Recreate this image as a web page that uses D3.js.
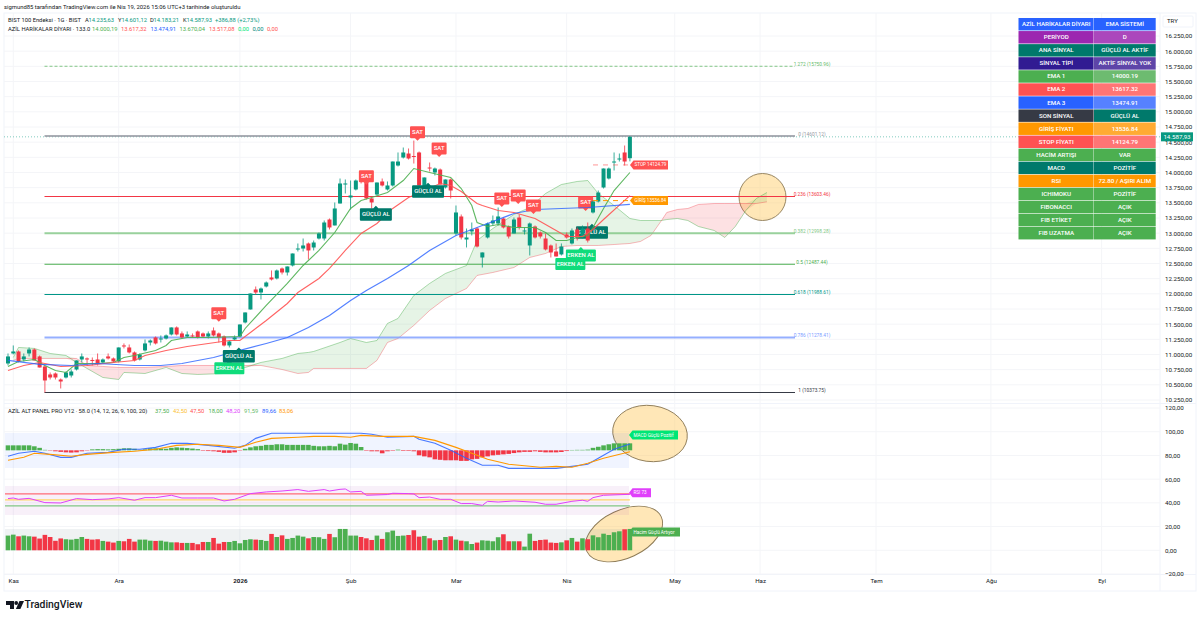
<!DOCTYPE html>
<html>
<head>
<meta charset="utf-8">
<script src="https://cdn.jsdelivr.net/npm/d3@7"></script>
<style>
  html, body { margin: 0; padding: 0; background: #fff; }
  svg { display: block; }
  text { font-family: Roboto, "Noto Sans", sans-serif; }
</style>
</head>
<body>
<div id="chart"></div>
<script>
const opens = [10852,11017,11050,10918,11017,11083,10968,10803,10671,10687,10588,10621,10654,10753,10918,10935,10910,10918,10869,10968,
  10935,10885,11149,11116,11034,10918,11067,11198,11281,11248,11264,11330,11446,11347,11297,11314,11380,11347,11297,11396,
  11347,11297,11149,11248,11297,11528,11742,12072,12022,12121,12270,12253,12418,12352,12467,12731,12747,12830,12764,12912,
  12912,13225,13127,13489,13802,13588,13720,13967,13951,13572,13637,13852,13720,13786,14115,14247,14313,14272,14330,13753,
  14082,14000,14049,13753,13885,12995,13275,12896,13028,13077,12599,12929,13160,13160,13242,13110,12995,13258,13028,12797,
  13110,13011,12912,12797,12698,12649,12978,12830,13061,12929,13077,13341,13522,13753,13901,14165,14214,14330,14235.63];
const highs = [11017,11149,11067,11017,11116,11100,10984,10819,10704,10704,10605,10720,10753,10902,11017,10951,10951,11017,10935,11017,
  10951,11116,11182,11165,11050,11017,11248,11248,11297,11314,11330,11446,11463,11380,11380,11347,11396,11363,11380,11446,
  11363,11314,11231,11314,11495,11693,12006,12121,12105,12204,12385,12401,12434,12451,12665,12830,12912,12846,12879,13011,
  13209,13242,13506,13901,13885,13868,13885,13984,13967,13588,13835,13901,13852,14181,14330,14412,14396,14527,14346,13918,
  14165,14082,14066,13885,13901,13456,13308,13077,13176,13094,12682,13176,13291,13423,13258,13127,13258,13308,13094,13176,
  13127,13028,12995,12813,12830,12830,13011,13077,13094,13127,13176,13539,13703,14066,14082,14330,14313,14445,14601.12];
const lows = [10819,11001,10869,10885,10968,10902,10786,10374,10588,10588,10440,10605,10621,10737,10869,10819,10819,10819,10852,10918,
  10869,10869,11100,11017,10885,10902,11050,11149,11165,11198,11248,11314,11314,11264,11281,11281,11264,11281,11264,11297,
  11198,11132,11116,11231,11281,11512,11742,11990,11907,12105,12220,12237,12319,12302,12451,12698,12698,12566,12715,12896,
  12879,13061,13127,13489,13654,13390,13704,13819,13555,13407,13621,13769,13703,13769,14099,14231,14214,14148,13769,13736,
  14016,13951,13802,13736,13572,12962,12896,12764,12962,12764,12434,12912,13127,13127,13077,12912,12995,13061,12978,12632,
  12912,12912,12715,12599,12616,12632,12912,12813,12879,12912,12846,13324,13506,13736,13885,14033,14181,14115,14183.21];
const closes = [10968,11050,10885,10968,11083,10902,10786,10572,10621,10621,10555,10704,10720,10902,10968,10918,10895,10852,10918,10935,
  10885,11116,11132,11034,10902,11001,11182,11231,11182,11264,11314,11446,11330,11281,11330,11297,11281,11297,11347,11314,
  11281,11149,11215,11281,11495,11693,12006,12022,12088,12187,12237,12385,12352,12451,12665,12747,12797,12715,12846,12995,
  13176,13094,13407,13819,13819,13621,13868,13885,13572,13506,13835,13786,13786,14181,14181,14330,14231,14256,13786,13918,
  14066,14066,13802,13885,13703,13341,12929,12929,13061,12780,12682,13160,13209,13275,13094,12945,13225,13094,13044,13160,
  12929,12945,12731,12682,12616,12780,12929,13044,12929,13077,12879,13522,13670,14066,14066,14181,14231,14181,14587.93];

const ema1Bars = [0,2,5,7,9,11,13,17,20,22,24,28,30,31,34,38,44,45,49,53,56,59,62,65,67,69,72,75,77,80,84,86,88,89,91,93,96,100,102,104,106,108,110,111,113,115,118];
const ema1 = [10803,10885,10918,10819,10737,10704,10852,10852,10869,10951,10984,11067,11149,11231,11281,11281,11297,11429,11808,12171,12467,12715,13011,13407,13539,13588,13670,13868,14066,14000,13918,13736,13456,13176,13110,13143,13094,13094,13011,12879,12879,12929,12962,13094,13407,13703,14000.19];

const ema2Bars = [0,3,6,10,15,20,24,26,30,34,38,42,44,46,49,53,55,59,61,64,67,70,73,76,79,82,84,86,89,90,93,96,100,104,106,109,111,113,118];
const ema2 = [10737,10819,10869,10803,10819,10869,10902,10984,11067,11132,11182,11231,11231,11363,11561,11841,12022,12253,12418,12715,12995,13160,13407,13588,13703,13819,13786,13687,13489,13456,13374,13341,13242,13044,12945,12945,13061,13225,13617.32];

const ema3Bars = [0,6,12,17,24,29,33,39,44,49,53,57,61,65,68,72,76,80,85,91,96,100,105,110,118];
const ema3 = [10902,10836,10819,10852,10819,10819,10852,10951,11067,11182,11281,11446,11643,11890,12055,12253,12467,12715,12962,13160,13324,13390,13407,13423,13474.91];

const ichiBars = [1,2,5,8,11,13,15,18,21,22,26,30,33,36,41,45,48,52,55,57,58,63,65,68,70,72,74,77,80,83,87,89,92,96,99,102,105,108,110,112,115,118,120,122,124,125,127,129,131,134,136,138,140,142,144];
const spanA = [10951,11116,11100,11017,10984,10869,10770,10621,10588,10704,10687,10786,10687,10671,10687,10786,10869,10935,11017,11034,11050,11198,11264,11198,11231,11512,11594,11973,12171,12336,12467,12879,13077,13308,13423,13654,13802,13852,13868,13654,13456,13242,13209,13209,13209,13225,13242,13209,13110,13044,12929,13110,13374,13572,13670.04];
const spanB = [10902,10935,10935,10935,10935,10935,10819,10803,10786,10786,10786,10803,10819,10819,10819,10819,10819,10753,10687,10704,10770,10770,10770,10770,10902,11198,11264,11479,11726,11923,12088,12303,12352,12434,12599,12665,12780,12797,12797,12797,12813,12830,12863,12962,13209,13341,13390,13407,13473,13489,13489,13489,13489,13489,13517.08];

const fibLevels = ["1.272","0","0.236","0.382","0.5","0.618","0.786","1"];
const fibPrices = [15750.96,14601.12,13603.46,12998.28,12487.44,11988.61,11278.41,10373.75];
const fibColors = ["#66bb6a","#9598a1","#f23645","#81c784","#4caf50","#009688","#7b9bff","#363a45"];

const volumes = [12.4,13.2,11.8,12.4,11.8,11.5,9.9,13,11.2,8,10,9.3,9,9.6,11.2,9.6,9,9.3,7.9,7.3,
  6.5,7.9,7.6,9.6,7.3,9,9,8.1,7.9,8.1,7.3,6.7,6.7,6.2,6.2,6.2,5.1,7,7,10.4,
  5.6,7,7,7.9,5.9,8.7,9.3,9,8.7,7.9,13.8,11.2,12.6,9.6,10.4,12.4,11.5,10.1,11.2,11,
  9.6,13.8,11,18,18,12.4,12.4,11.2,10.1,8.7,12.4,9.6,15.2,16.6,12.1,12.4,12.9,16.9,11.5,12.1,
  10.1,8.4,8.7,11.2,11.8,9,8.1,7.6,5.3,6.5,8.4,8.1,7.6,11,13.5,7.6,7.6,7.6,3.1,14,
  7.9,8.7,9,6.5,6.2,6.7,8.4,10.4,7.3,10.1,9.3,12.6,11,14,12.9,15.2,16,17.7,18];
const macdHist = [4.2,4.2,4.2,4.2,4.2,3.4,2.1,.4,-.3,-.8,-1.3,-1.7,-1.9,-1.7,-.8,-.3,.8,1,1,.8,
  1,1.3,1.7,1.7,1.3,.4,.8,1.7,1.7,1.5,1.3,2.1,2.5,2.2,1.9,1.5,1,-.4,-.6,-.8,
  -1.3,-2.1,-2.1,-1.7,-.3,1.3,2.5,3.4,3.8,4.6,4.6,5.1,5.1,4.6,4.6,4.6,4.6,4.6,3.8,3.4,
  3.4,3.8,3.4,5.6,4.8,6.2,5.6,2.8,-.4,-.8,-.8,-2.5,-.8,-.4,.6,-.5,-.5,-.8,-4.2,-5.1,
  -5.9,-7.6,-8,-8.4,-8.4,-8.4,-8.9,-8.9,-7.6,-7.2,-5.9,-5.1,-4.2,-3.8,-3.4,-3,-2.3,-1.7,-1.3,-1.3,
  -.8,-1.3,-1.7,-1.7,-1.7,-1.4,-.6,.3,.4,.4,.6,2.1,3,4.2,5.1,5.9,5.9,5.9,5.9];
const macdBase = 84.3;

const macdBars = [0,2,5,7,10,12,15,19,22,25,28,31,34,38,43,45,47,50,55,65,67,69,72,77,78,81,84,87,90,93,95,101,104,107,110,112,115,118];
const macdLine = [79.3,81.8,83.5,81.8,78.4,78.4,81.8,82.6,85.2,85.2,86.8,90.2,90.2,88.5,86,88.5,94.4,98.7,98.7,98.7,98.7,97.8,95.3,96.1,93.6,90.2,84.3,77.6,71.7,71.7,69.1,69.1,69.1,70.8,72.5,77.6,85.2,89.66];
const signalBars = [0,3,5,8,12,15,20,24,28,32,36,40,44,47,50,55,58,62,65,67,71,77,81,85,88,91,95,101,104,107,110,113,118];
const signalLine = [75.9,78.4,81.8,80.9,79.3,80.9,82.6,83.5,85.2,88.5,89.4,88.5,86.8,91.1,94.4,95.3,96.1,96.1,95.3,96.9,96.1,96.1,92.7,86.8,81.8,76.7,72.5,70,70.8,70,73.4,77.6,83.06];

const rsiBars = [0,1,2,4,7,10,13,16,19,21,24,26,28,31,33,36,39,41,43,46,49,52,55,57,60,61,63,64,65,67,68,72,73,76,77,78,80,82,84,86,88,90,91,93,96,100,102,104,107,109,110,111,113,118];
const rsiLine = [43.6,44.1,43,43.8,40.2,39.9,43.6,42.7,43.3,44.4,42.2,44.4,44.4,46.4,44.1,44.1,44.1,41.6,43,47.8,49.2,50,51.2,49.7,51.2,50,51.4,51.7,49.2,49.7,46.4,47,48.1,47.8,47.5,44.4,44.9,43,43,39.4,39.4,37.9,41.3,40.7,41.6,40.5,38.8,38.8,41.3,42.2,41.3,44.4,46.4,47.2];
const rsiLevels = [47.5,42.5,37.5];
const rsiLevelColors = ["#ff6b76","#ffd766","#81c784"];

const priceTicks = d3.range(10250, 16251, 250);
const panelTicks = [120,100,80,60,40,20,0,-20];
const timeTicks = [1,21,44,65,85,106,126.5,142.7,164.7,186.5,207.5];
const timeLabels = ["Kas","Ara","2026","Şub","Mar","Nis","May","Haz","Tem","Ağu","Eyl"];

const tableLeft = ["AZİL HARİKALAR DİYARI","PERİYOD","ANA SİNYAL","SİNYAL TİPİ","EMA 1","EMA 2","EMA 3","SON SİNYAL","GİRİŞ FİYATI","STOP FİYATI","HACİM ARTIŞI","MACD","RSI","ICHIMOKU","FIBONACCI","FIB ETİKET","FIB UZATMA"];
const tableRight = ["EMA SİSTEMİ","D","GÜÇLÜ AL AKTİF","AKTİF SİNYAL YOK","14000.19","13617.32","13474.91","GÜÇLÜ AL","13536.84","14124.79","VAR","POZİTİF","72.80 / AŞIRI ALIM","POZİTİF","AÇIK","AÇIK","AÇIK"];
const tableLeftColors = ["#2962ff","#9c27b0","#00796b","#311b92","#4caf50","#ff5252","#2962ff","#363a45","#ff9800","#ff5252","#4caf50","#00796b","#ff9800","#4caf50","#4caf50","#4caf50","#4caf50"];
const tableRightColors = ["#2962ff","#ab47bc","#00796b","#5e45a8","#6dbb70","#ff7575","#5681ff","#00796b","#ffab33","#ff7575","#4caf50","#00796b","#ff9800","#4caf50","#4caf50","#4caf50","#4caf50"];

// signal flags: bar the flag sits over, price it sits at
const satBars = [40,68,77.7,81.8,93.7,96.8,99.7];
const satPrices = [11680,13940,14664,14395,13572,13621,13456];
const gucluBars = [43.8,69.8,79.7];
const gucluPrices = [10973,13308,13687];
const erkenBars = [42,106.7,108.7];
const erkenPrices = [10775,12492,12632];

const width = 1200, height = 619;
const plotLeft = 4, plotRight = 1160, scaleRight = 1196;

const x = d3.scaleLinear().domain([0, 118]).range([8, 629.9]);
const y = d3.scaleLinear().domain([10250, 16250]).range([400, 36]);
const yp = d3.scaleLinear().domain([-20, 120]).range([574, 408]);

const green = "#089981", red = "#f23645";
const volGreen = "#4caf50", volRed = "#f23645";

const svg = d3.select("#chart").append("svg").attr("width", width).attr("height", height);

// frame
svg.append("rect").attr("x", plotLeft).attr("y", 13).attr("width", scaleRight - plotLeft).attr("height", 578)
  .attr("fill", "none").attr("stroke", "#f0f3fa");
svg.append("line").attr("x1", plotLeft).attr("x2", scaleRight).attr("y1", 403.5).attr("y2", 403.5).attr("stroke", "#f0f3fa");
svg.append("line").attr("x1", plotRight).attr("x2", plotRight).attr("y1", 13).attr("y2", 591).attr("stroke", "#f0f3fa");
svg.append("line").attr("x1", plotLeft).attr("x2", scaleRight).attr("y1", 574.5).attr("y2", 574.5).attr("stroke", "#f0f3fa");

// grid
const grid = svg.append("g").attr("stroke", "#f4f5f8");
grid.selectAll(".h").data(priceTicks).join("line")
  .attr("x1", plotLeft).attr("x2", plotRight).attr("y1", d => y(d)).attr("y2", d => y(d));
grid.selectAll(".p").data(panelTicks).join("line")
  .attr("x1", plotLeft).attr("x2", plotRight).attr("y1", d => yp(d)).attr("y2", d => yp(d));
grid.selectAll(".v").data(timeTicks).join("line")
  .attr("x1", d => x(d)).attr("x2", d => x(d)).attr("y1", 13).attr("y2", 574);

// drawn ellipses sit under the marks
function blob(cx, cy, rx, ry, angle) {
  svg.append("ellipse").attr("cx", cx).attr("cy", cy).attr("rx", rx).attr("ry", ry)
    .attr("transform", "rotate(" + angle + " " + cx + " " + cy + ")")
    .attr("fill", "#ffca60").attr("fill-opacity", 0.45).attr("stroke", "#8d7a55").attr("stroke-width", 0.9);
}
blob(762.5, 197, 23.5, 23.5, 0);
blob(650, 433.5, 37.5, 28, 8);
blob(624, 534, 41, 24, -25);

// ichimoku cloud
const ichi = ichiBars.map((b, i) => ({ b: b, a: spanA[i], c: spanB[i] }));
const cloudUp = d3.area().x(d => x(d.b)).y0(d => y(d.c)).y1(d => y(Math.max(d.a, d.c)));
const cloudDown = d3.area().x(d => x(d.b)).y0(d => y(d.c)).y1(d => y(Math.min(d.a, d.c)));
svg.append("path").datum(ichi).attr("d", cloudUp).attr("fill", "#4caf50").attr("fill-opacity", 0.14);
svg.append("path").datum(ichi).attr("d", cloudDown).attr("fill", "#f23645").attr("fill-opacity", 0.15);

function drawLine(bars, values, scale, color, lineWidth, opacity) {
  const gen = d3.line().x((d, i) => x(bars[i])).y(d => scale(d));
  svg.append("path").datum(values).attr("d", gen).attr("fill", "none")
    .attr("stroke", color).attr("stroke-width", lineWidth).attr("stroke-opacity", opacity || 1);
}

drawLine(ichiBars, spanA, y, "#4caf50", 1, 0.45);
drawLine(ichiBars, spanB, y, "#f23645", 1, 0.35);

// last price line
svg.append("line").attr("x1", plotLeft).attr("x2", plotRight).attr("y1", y(closes[118])).attr("y2", y(closes[118]))
  .attr("stroke", green).attr("stroke-dasharray", "1,2").attr("stroke-opacity", 0.5);

// fib lines
const fibWidths = [0.8, 2, 1.1, 2, 1.1, 1.1, 2, 1.1];
const fib = svg.append("g");
fibPrices.forEach((p, i) => {
  fib.append("line").attr("x1", 44.5).attr("x2", 795).attr("y1", y(p)).attr("y2", y(p))
    .attr("stroke", fibColors[i]).attr("stroke-width", fibWidths[i])
    .attr("stroke-opacity", fibWidths[i] > 1.5 ? 0.8 : 1)
    .attr("stroke-dasharray", i === 0 ? "3,2" : null);
  fib.append("text").attr("x", 812).attr("y", y(p) - 1.5).attr("font-size", 4.8).attr("text-anchor", "middle")
    .attr("dominant-baseline", "middle").attr("fill", fibColors[i]).text(fibLevels[i] + " (" + fibPrices[i].toFixed(2) + ")");
});

// flags
function flag(cx, cy, w, h, color, label, pointerUp) {
  const l = cx - w / 2, r = cx + w / 2, t = cy - h / 2, b = cy + h / 2;
  const p = d3.path();
  p.moveTo(l + 1, t);
  if (pointerUp) { p.lineTo(cx - 2.5, t); p.lineTo(cx, t - 2.5); p.lineTo(cx + 2.5, t); }
  p.lineTo(r - 1, t);
  p.quadraticCurveTo(r, t, r, t + 1);
  p.lineTo(r, b - 1);
  p.quadraticCurveTo(r, b, r - 1, b);
  if (!pointerUp) { p.lineTo(cx + 2.5, b); p.lineTo(cx, b + 2.5); p.lineTo(cx - 2.5, b); }
  p.lineTo(l + 1, b);
  p.quadraticCurveTo(l, b, l, b - 1);
  p.lineTo(l, t + 1);
  p.quadraticCurveTo(l, t, l + 1, t);
  svg.append("path").attr("d", p.toString()).attr("fill", color);
  svg.append("text").attr("x", cx).attr("y", cy + 0.3).attr("text-anchor", "middle")
    .attr("dominant-baseline", "middle").attr("font-size", 6).attr("font-weight", 500).attr("fill", "#fff").text(label);
}

// these two lie behind the candles in the reference
flag(x(110.8), y(13011), 32, 12.5, "#00796b", "GÜÇLÜ AL", true);
flag(x(109.6), y(13506), 15, 12, "#ff5252", "SAT", false);

// candles
const candles = svg.append("g");
candles.selectAll(".wick").data(closes).join("line")
  .attr("x1", (d, i) => x(i)).attr("x2", (d, i) => x(i))
  .attr("y1", (d, i) => y(highs[i])).attr("y2", (d, i) => y(lows[i]))
  .attr("stroke", (d, i) => d >= opens[i] ? green : red).attr("stroke-width", 0.8);
candles.selectAll(".body").data(closes).join("rect")
  .attr("x", (d, i) => x(i) - 2).attr("width", 4)
  .attr("y", (d, i) => y(Math.max(d, opens[i])))
  .attr("height", (d, i) => Math.max(1, Math.abs(y(d) - y(opens[i]))))
  .attr("fill", (d, i) => d >= opens[i] ? green : red);

drawLine(ema1Bars, ema1, y, "#4caf50", 1.1, 0.9);
drawLine(ema2Bars, ema2, y, "#ff5252", 1.1, 0.9);
drawLine(ema3Bars, ema3, y, "#2962ff", 1.2, 0.8);

// stop and entry
svg.append("line").attr("x1", x(111)).attr("x2", x(118)).attr("y1", y(14124.79)).attr("y2", y(14124.79))
  .attr("stroke", "#ff5252").attr("stroke-opacity", 0.6).attr("stroke-dasharray", "5,5");
svg.append("line").attr("x1", x(111)).attr("x2", x(118)).attr("y1", y(13536.84)).attr("y2", y(13536.84))
  .attr("stroke", "#ff9800").attr("stroke-dasharray", "5,5");

erkenBars.forEach((b, i) => flag(x(b), y(erkenPrices[i]), 30, 12, "#0fdc7b", "ERKEN AL", true));
gucluBars.forEach((b, i) => flag(x(b), y(gucluPrices[i]), 32, 12.5, "#00796b", "GÜÇLÜ AL", true));
satBars.forEach((b, i) => flag(x(b), y(satPrices[i]), 15, 12, "#ff5252", "SAT", false));

// tag pointing left off the last bar
function sideTag(tx, cy, w, h, color, label) {
  const p = d3.path();
  p.moveTo(tx, cy);
  p.lineTo(tx + 3.5, cy - h / 2);
  p.lineTo(tx + w, cy - h / 2);
  p.lineTo(tx + w, cy + h / 2);
  p.lineTo(tx + 3.5, cy + h / 2);
  p.closePath();
  svg.append("path").attr("d", p.toString()).attr("fill", color);
  svg.append("text").attr("x", tx + 4.5).attr("y", cy + 0.3).attr("dominant-baseline", "middle")
    .attr("font-size", 4.6).attr("fill", "#fff").text(label);
}
sideTag(630, y(14124.79), 38, 9, "#ff5252", "STOP 14124.79");
sideTag(630, y(13536.84), 38, 9, "#ff9800", "GİRİŞ 13536.84");

// lower panel zones
const zones = svg.append("g");
zones.append("rect").attr("x", plotLeft + 1).attr("width", 624).attr("y", 433).attr("height", 35).attr("fill", "#2962ff").attr("fill-opacity", 0.07);
zones.append("rect").attr("x", plotLeft + 1).attr("width", 624).attr("y", 486).attr("height", 29).attr("fill", "#9c27b0").attr("fill-opacity", 0.07);
zones.append("rect").attr("x", plotLeft + 1).attr("width", 624).attr("y", 529).attr("height", 21).attr("fill", "#78909c").attr("fill-opacity", 0.12);

// macd
svg.append("g").selectAll("rect").data(macdHist).join("rect")
  .attr("x", (d, i) => x(i) - 2.3).attr("width", 4.6)
  .attr("y", d => yp(macdBase + Math.max(d, 0)))
  .attr("height", d => Math.abs(yp(macdBase) - yp(macdBase + d)))
  .attr("fill", d => d >= 0 ? volGreen : volRed);
drawLine(macdBars, macdLine, yp, "#2962ff", 1.1, 0.85);
drawLine(signalBars, signalLine, yp, "#ff9800", 1.1);

// rsi
rsiLevels.forEach((v, i) => {
  svg.append("line").attr("x1", plotLeft + 1).attr("x2", x(118)).attr("y1", yp(v)).attr("y2", yp(v))
    .attr("stroke", rsiLevelColors[i]).attr("stroke-width", 1.2);
});
drawLine(rsiBars, rsiLine, yp, "#e040fb", 1);

// volume
svg.append("g").selectAll("rect").data(volumes).join("rect")
  .attr("x", (d, i) => x(i) - 2.3).attr("width", 4.6)
  .attr("y", d => yp(d)).attr("height", d => yp(0) - yp(d))
  .attr("fill", (d, i) => closes[i] >= opens[i] ? volGreen : volRed);

sideTag(629, 435, 49, 9, "#00e676", "MACD Güçlü Pozitif");
sideTag(629, 492.7, 22, 9, "#e040fb", "RSI 73");
sideTag(629, 532, 51, 9, "#4caf50", "Hacim Güçlü Artıyor");

// table
const rowH = 13.06, tableTop = 18, colA = 1018.5, colB = 1094, colEnd = 1155.7;
const table = svg.append("g");
tableLeft.forEach((t, i) => {
  const top = tableTop + i * rowH;
  table.append("rect").attr("x", colA).attr("y", top).attr("width", colB - colA - 0.4).attr("height", rowH - 0.6).attr("fill", tableLeftColors[i]);
  table.append("rect").attr("x", colB).attr("y", top).attr("width", colEnd - colB).attr("height", rowH - 0.6).attr("fill", tableRightColors[i]);
  table.append("text").attr("x", (colA + colB) / 2).attr("y", top + rowH / 2).attr("text-anchor", "middle")
    .attr("dominant-baseline", "middle").attr("font-size", 6.2).attr("font-weight", 500).attr("fill", "#fff").text(t);
  table.append("text").attr("x", (colB + colEnd) / 2).attr("y", top + rowH / 2).attr("text-anchor", "middle")
    .attr("dominant-baseline", "middle").attr("font-size", 6.2).attr("font-weight", 500).attr("fill", "#fff").text(tableRight[i]);
});

// axes
const trLocale = d3.formatLocale({ decimal: ",", thousands: ".", grouping: [3], currency: ["", ""] });
const fmt = trLocale.format(",.2f");

const priceAxis = d3.axisRight(y).tickValues(priceTicks).tickFormat(fmt).tickSize(0).tickPadding(0);
const panelAxis = d3.axisRight(yp).tickValues(panelTicks).tickFormat(fmt).tickSize(0).tickPadding(0);
const timeAxis = d3.axisBottom(x).tickValues(timeTicks).tickFormat((d, i) => timeLabels[i]).tickSize(0).tickPadding(0);

function styleAxis(g) {
  g.select(".domain").remove();
  g.selectAll("text").attr("font-size", 6.2).attr("fill", "#131722");
}
svg.append("g").attr("transform", "translate(1165,0)").call(priceAxis).call(styleAxis);
svg.append("g").attr("transform", "translate(1165,0)").call(panelAxis).call(styleAxis);
svg.append("g").attr("transform", "translate(0,579)").call(timeAxis).call(styleAxis);
svg.selectAll("text").filter(function () { return this.textContent === "2026"; }).attr("font-weight", 700);

// currency box and last price tag
svg.append("rect").attr("x", 1163).attr("y", 16).attr("width", 30).attr("height", 11).attr("rx", 1).attr("fill", "#fff").attr("stroke", "#f0f3fa");
svg.append("text").attr("x", 1167).attr("y", 21.5).attr("dominant-baseline", "middle").attr("font-size", 6).attr("fill", "#131722").text("TRY");
svg.append("rect").attr("x", 1161).attr("y", y(closes[118]) - 4.5).attr("width", 32).attr("height", 9).attr("fill", green);
svg.append("text").attr("x", 1177).attr("y", y(closes[118]) + 0.3).attr("text-anchor", "middle").attr("dominant-baseline", "middle")
  .attr("font-size", 6.2).attr("fill", "#fff").text(fmt(closes[118]));

// legends
function legendText(tx, ty, label, color, size) {
  svg.append("text").attr("x", tx).attr("y", ty).attr("dominant-baseline", "middle")
    .attr("font-size", size || 5.8).attr("fill", color).text(label);
}
legendText(4, 7, "sigmund85 tarafından TradingView.com ile Nis 19, 2026 15:06 UTC+3 tarihinde oluşturuldu", "#131722", 5.9);
legendText(8, 20, "BIST 100 Endeksi · 1G · BIST", "#131722");
legendText(85, 20, "A", "#131722");
legendText(88.5, 20, "14.235,63", green);
legendText(118, 20, "Y", "#131722");
legendText(121.5, 20, "14.601,12", green);
legendText(150, 20, "D", "#131722");
legendText(153.5, 20, "14.183,21", green);
legendText(183, 20, "K", "#131722");
legendText(186.5, 20, "14.587,93", green);
legendText(215, 20, "+386,88 (+2,73%)", green);
legendText(8, 29, "AZİL HARİKALAR DİYARI · 133.0", "#131722");
legendText(92, 29, "14.000,19", "#4caf50");
legendText(121, 29, "13.617,32", "#ff5252");
legendText(150.5, 29, "13.474,91", "#2962ff");
legendText(179.5, 29, "13.670,04", "#4caf50");
legendText(209, 29, "13.517,08", "#ff5252");
legendText(238, 29, "0,00", "#00e676");
legendText(252.5, 29, "0,00", "#00897b");
legendText(267, 29, "0,00", "#ff5252");
legendText(8, 411, "AZİL ALT PANEL PRO V12 · 58.0 (14, 12, 26, 9, 100, 20)", "#131722");
legendText(155, 411, "37,50", "#4caf50");
legendText(173, 411, "42,50", "#fbc02d");
legendText(190, 411, "47,50", "#ff5252");
legendText(208.5, 411, "18,00", "#4caf50");
legendText(226, 411, "48,20", "#e040fb");
legendText(244, 411, "91,59", "#66bb6a");
legendText(262, 411, "89,66", "#2962ff");
legendText(279, 411, "83,06", "#ff9800");

// logo
const logo = svg.append("g").attr("fill", "#131722");
logo.append("path").attr("d", "M6 601h8v8h-4v-4h-4z");
logo.append("circle").attr("cx", 16.2).attr("cy", 603).attr("r", 1.9);
logo.append("path").attr("d", "M19.5 601h4.5l-3.6 8h-4.5z");
svg.append("text").attr("x", 24.5).attr("y", 605).attr("dominant-baseline", "middle")
  .attr("font-size", 10.4).attr("font-weight", 500).attr("fill", "#131722").text("TradingView");
</script>
</body>
</html>
